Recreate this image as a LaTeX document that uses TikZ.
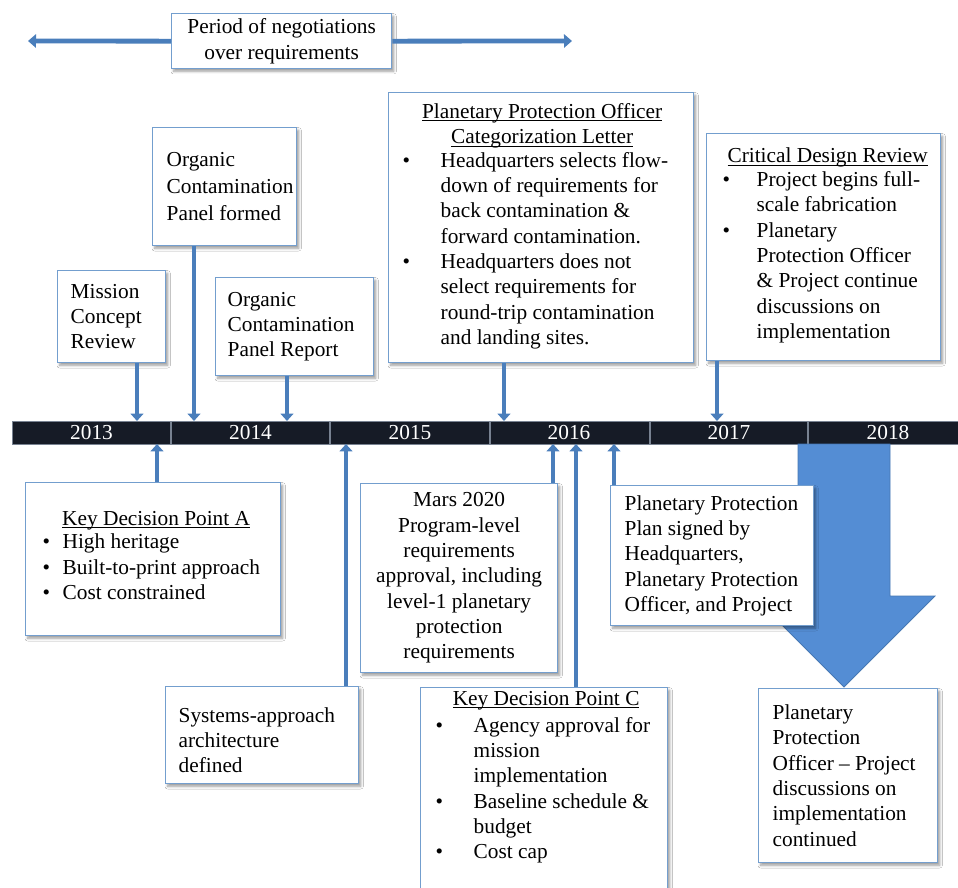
\documentclass[tikz,border=0pt]{standalone}
\usepackage{fontspec}
\setmainfont{Liberation Serif}
\usetikzlibrary{arrows.meta,shadows.blur}

% one drawing unit
\newdimen\pxu \pxu=0.75pt

% underline drawn just below the baseline
\newcommand\titleul[1]{\leavevmode\setbox0\hbox{#1}\rlap{\rule[-2.2pt]{\wd0}{0.7pt}}\box0}

\definecolor{arrowblue}{RGB}{74,126,187}
\definecolor{bigblue}{RGB}{84,141,212}
\definecolor{bigedge}{RGB}{70,120,180}
\definecolor{boxline}{RGB}{115,158,206}
\definecolor{barfill}{RGB}{22,27,38}
\definecolor{barline}{RGB}{120,130,145}

\tikzset{
  box/.style={draw=boxline, line width=1pt, fill=white, inner sep=0pt,
    anchor=north west,
    blur shadow={shadow xshift=1.5pt, shadow yshift=-2pt,
      shadow blur radius=2pt, shadow opacity=40},
    font=\fontsize{16}{19}\selectfont},
  tick/.style={arrowblue, line width=3.4pt,
    -{Triangle[width=9.5pt,length=5.5pt]}},
  spanarr/.style={arrowblue, line width=3.6pt,
    -{Triangle[width=10pt,length=6pt]}},
  year/.style={text=white, inner sep=0pt, font=\fontsize{16}{19}\selectfont},
  divider/.style={barline, line width=0.8pt},
}

\begin{document}
\begin{tikzpicture}[x=0.75pt, y=-0.75pt]
\clip (0,0) rectangle (958,888);
\fill[white] (0,0) rectangle (958,888);

% negotiation period
\coordinate (nl) at (28,41);
\coordinate (nr) at (572,41);
\node[box] (neg) at (171,13) {\parbox[c][55\pxu][c]{220\pxu}{\centering Period of negotiations\\over requirements}};
\draw[spanarr] (neg.west) -- (nl);
\draw[spanarr] (neg.east) -- (nr);

% timeline bar
\node[fill=barfill, draw=barline, line width=0.5pt, inner sep=0pt,
  minimum width=709.5pt, minimum height=17.25pt, anchor=north west] (bar) at (12,421) {};
\foreach \x in {171,330,490,650,808} \draw[divider] (\x,421) -- (\x,444);
\node[year] (y13) at (91.5,432.5) {2013};
\node[year] (y14) at (250.5,432.5) {2014};
\node[year] (y15) at (410,432.5) {2015};
\node[year] (y16) at (569,432.5) {2016};
\node[year] (y17) at (729,432.5) {2017};
\node[year] (y18) at (888,432.5) {2018};

% continuing period arrow
\fill[bigblue, draw=bigedge, line width=0.6pt]
  (798,444) -- (890,444) -- (890,596) -- (935,596) -- (844,687)
  -- (753,596) -- (798,596) -- cycle;

% events above the timeline
\node[box] (mcr) at (57,270) {\hspace*{13\pxu}\parbox[c][92\pxu][c]{90\pxu}{\raggedright Mission\\Concept\\Review}\hspace*{5\pxu}};

\node[box] (ocpf) at (152,127) {\hspace*{14\pxu}\parbox[c][118\pxu][c]{128\pxu}{\raggedright\baselineskip=20.5pt Organic\\Contamination\\Panel formed}\hspace*{2\pxu}};

\node[box] (ocpr) at (215,277) {\hspace*{12\pxu}\parbox[c][98\pxu][c]{140\pxu}{\raggedright Organic\\Contamination\\Panel Report}\hspace*{6\pxu}};

\node[box] (ppo) at (388,92) {\hspace*{8\pxu}\parbox[c][270\pxu][c]{291\pxu}{\centering\titleul{Planetary Protection Officer}\\\titleul{Categorization Letter}\par\raggedright
\begin{tabular}{@{}p{44\pxu}@{}l@{}}
\hspace*{6\pxu}•&Headquarters selects flow-\\
&down of requirements for\\
&back contamination \&\\
&forward contamination.\\
\hspace*{6\pxu}•&Headquarters does not\\
&select requirements for\\
&round-trip contamination\\
&and landing sites.
\end{tabular}}\hspace*{6\pxu}};

\node[box] (cdr) at (706,133) {\hspace*{14\pxu}\parbox[c][227\pxu][c]{214\pxu}{\centering\titleul{Critical Design Review}\par\raggedright
\begin{tabular}{@{}p{36\pxu}@{}l@{}}
\hspace*{2\pxu}•&Project begins full-\\
&scale fabrication\\
\hspace*{2\pxu}•&Planetary\\
&Protection Officer\\
&\& Project continue\\
&discussions on\\
&implementation
\end{tabular}}\hspace*{6\pxu}};

% events below the timeline
\node[box] (kdpa) at (25,482) {\hspace*{12\pxu}\parbox[c][153\pxu][c]{237\pxu}{\centering\titleul{Key Decision Point A}\par\raggedright
\begin{tabular}{@{}p{25\pxu}@{}l@{}}
\hspace*{5\pxu}•&High heritage\\
\hspace*{5\pxu}•&Built-to-print approach\\
\hspace*{5\pxu}•&Cost constrained
\end{tabular}}\hspace*{6\pxu}};

\node[box] (sys) at (165,686) {\hspace*{13\pxu}\parbox[c][97\pxu][c]{175\pxu}{\vspace*{10\pxu}\raggedright Systems-approach\\architecture\\defined}\hspace*{5\pxu}};

\node[box] (mars) at (360,483) {\parbox[c][189\pxu][c]{197\pxu}{\centering Mars 2020\\Program-level\\requirements\\approval, including\\level-1 planetary\\protection\\requirements}};

\node[box] (kdpc) at (420,687) {\hspace*{10\pxu}\parbox[t][220\pxu][t]{231\pxu}{\centering\strut\titleul{Key Decision Point C}\par\raggedright
\begin{tabular}{@{}p{43\pxu}@{}l@{}}
\hspace*{5\pxu}•&Agency approval for\\
&mission\\
&implementation\\
\hspace*{5\pxu}•&Baseline schedule \&\\
&budget\\
\hspace*{5\pxu}•&Cost cap
\end{tabular}}\hspace*{6\pxu}};

\node[box] (ppp) at (610,485) {\hspace*{14\pxu}\parbox[c][140\pxu][c]{184\pxu}{\raggedright Planetary Protection\\Plan signed by\\Headquarters,\\Planetary Protection\\Officer, and Project}\hspace*{5\pxu}};

\node[box] (ppod) at (758,688) {\hspace*{14\pxu}\parbox[c][174\pxu][c]{160\pxu}{\raggedright Planetary\\Protection\\Officer \textendash{} Project\\discussions on\\implementation\\continued}\hspace*{5\pxu}};

% arrow ends on the timeline
\coordinate (a1) at (137,421);
\coordinate (a2) at (194,421);
\coordinate (a3) at (287,421);
\coordinate (a4) at (504,421);
\coordinate (a5) at (717,421);
\coordinate (b1) at (157,444);
\coordinate (b2) at (346,444);
\coordinate (b3) at (553,444);
\coordinate (b4) at (576,444);
\coordinate (b5) at (614,444);

\draw[tick] (mcr.south -| a1) -- (a1);
\draw[tick] (ocpf.south -| a2) -- (a2);
\draw[tick] (ocpr.south -| a3) -- (a3);
\draw[tick] (ppo.south -| a4) -- (a4);
\draw[tick] (cdr.south -| a5) -- (a5);
\draw[tick] (kdpa.north -| b1) -- (b1);
\draw[tick] (sys.north -| b2) -- (b2);
\draw[tick] (mars.north -| b3) -- (b3);
\draw[tick] (kdpc.north -| b4) -- (b4);
\draw[tick] (ppp.north -| b5) -- (b5);
\end{tikzpicture}
\end{document}
